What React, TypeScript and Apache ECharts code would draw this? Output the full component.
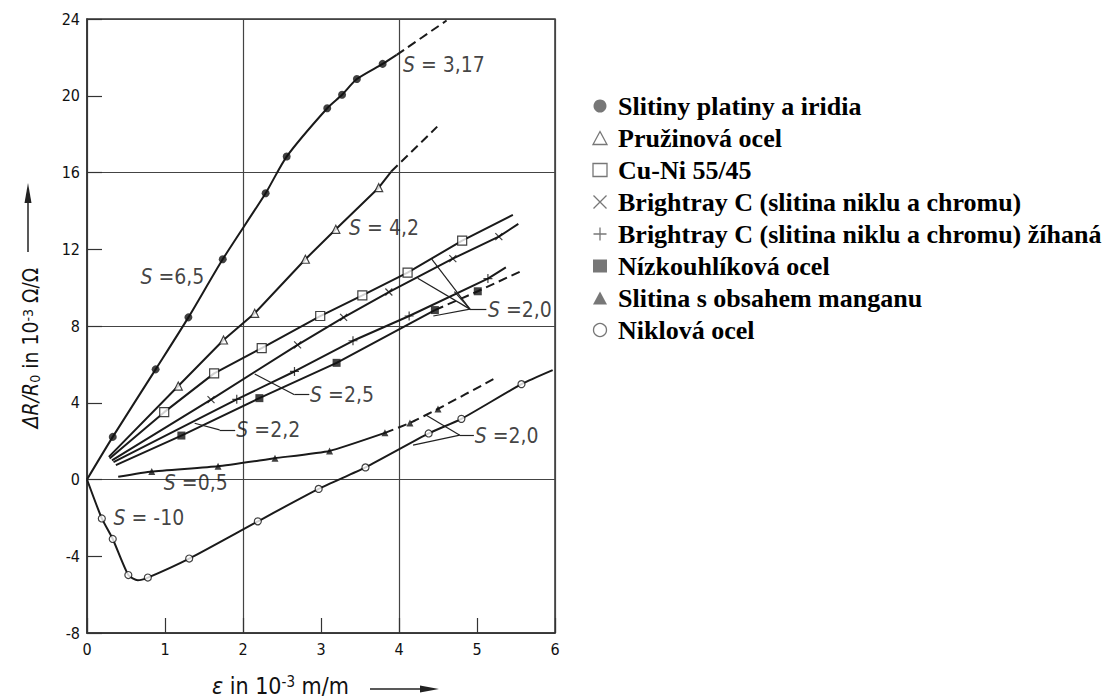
import React, { useEffect, useRef } from 'react';
import * as echarts from 'echarts';

type P = [number, number];

const FONT = '"DejaVu Sans Condensed", "DejaVu Sans", sans-serif';
const LEGEND_FONT = '"Liberation Serif", "Times New Roman", serif';

const legendNames = [
  'Slitiny platiny a iridia',
  'Pružinová ocel',
  'Cu-Ni 55/45',
  'Brightray C (slitina niklu a chromu)',
  'Brightray C (slitina niklu a chromu) žíhaná',
  'Nízkouhlíková ocel',
  'Slitina s obsahem manganu',
  'Niklová ocel',
];

// Slitiny platiny a iridia (filled circles)
const platStart: P = [0, 0];
const platPts: P[] = [[0.33, 2.22], [0.88, 5.74], [1.3, 8.45], [1.74, 11.48], [2.29, 14.92], [2.56, 16.83], [3.08, 19.35], [3.27, 20.05], [3.46, 20.87], [3.79, 21.66]];
const platDashFrom: P = [3.97, 22.13];
const platEnd: P = [4.61, 23.92];

// Pružinová ocel (open triangles)
const springStart: P = [0.28, 1.18];
const springPts: P[] = [[1.17, 4.87], [1.75, 7.27], [2.15, 8.66], [2.8, 11.48], [3.19, 13.04], [3.74, 15.21]];
const springDashFrom: P = [3.9, 16.05];
const springEnd: P = [4.49, 18.39];

// Cu-Ni 55/45 (open squares)
const cuniStart: P = [0.29, 1.1];
const cuniPts: P[] = [[0.99, 3.51], [1.63, 5.53], [2.24, 6.85], [2.99, 8.52], [3.53, 9.6], [4.11, 10.78], [4.81, 12.45]];
const cuniEnd: P = [5.46, 13.79];

// Brightray C (crosses)
const brightStart: P = [0.32, 1.0];
const brightPts: P[] = [[1.59, 4.16], [2.7, 7.02], [3.29, 8.45], [3.87, 9.77], [4.69, 11.51], [5.28, 12.66]];
const brightEnd: P = [5.53, 13.32];

// Brightray C žíhaná (plus)
const annealStart: P = [0.34, 0.9];
const annealPts: P[] = [[1.92, 4.18], [2.66, 5.63], [3.41, 7.23], [4.13, 8.52], [5.14, 10.47]];
const annealEnd: P = [5.37, 11.06];

// Nízkouhlíková ocel (filled squares)
const lowcStart: P = [0.37, 0.75];
const lowcPts: P[] = [[1.21, 2.29], [2.21, 4.24], [3.2, 6.08], [4.46, 8.83], [5.01, 9.81]];
const lowcDashFrom: P = [4.46, 8.83];
const lowcEnd: P = [5.56, 10.85];

// Slitina s obsahem manganu (filled triangles)
const mnStart: P = [0.4, 0.14];
const mnPts: P[] = [[0.83, 0.42], [1.68, 0.69], [2.41, 1.11], [3.11, 1.49], [3.82, 2.43], [4.14, 2.95], [4.5, 3.68]];
const mnDashFrom: P = [3.82, 2.43];
const mnEnd: P = [5.22, 5.25];

// Niklová ocel (open circles)
const nickStart: P = [0, 0];
const nickPts: P[] = [[0.19, -2.03], [0.33, -3.1], [0.53, -4.98], [0.78, -5.11], [1.31, -4.12], [2.19, -2.18], [2.97, -0.49], [3.57, 0.63], [4.38, 2.4], [4.8, 3.16], [5.57, 4.97]];
const nickBend: P[] = [[0.65, -5.25]];
const nickEnd: P = [5.97, 5.7];

// Annotations
const annoX = [4.05, 3.36, 0.685, 5.14, 2.86, 1.915, 4.97, 0.985, 0.34];
const annoY = [21.6, 13.1, 10.57, 8.85, 4.4, 2.57, 2.28, -0.19, -2.02];
const annoText = ['= 3,17', '= 4,2', '=6,5', '=2,0', '=2,5', '=2,2', '=2,0', '=0,5', '= -10'];

// Leader lines (segments)
const leaderUpper: P[][] = [
  [[4.91, 8.88], [4.42, 11.48]],
  [[4.91, 8.88], [4.24, 10.49]],
  [[4.91, 8.88], [4.71, 9.79]],
  [[4.91, 8.88], [4.44, 8.52]],
  [[4.91, 8.88], [5.12, 8.88]],
];
const leader25: P[] = [[2.15, 5.5], [2.66, 4.42], [2.85, 4.42]];
const leader22: P[] = [[1.38, 2.93], [1.7, 2.59], [1.9, 2.59]];
const leaderLower: P[][] = [
  [[4.78, 2.31], [4.35, 3.35]],
  [[4.78, 2.31], [4.18, 1.79]],
  [[4.78, 2.31], [4.96, 2.31]],
];

const CROSS = 'path://M0,0L10,10M10,0L0,10';
const PLUS = 'path://M5,0L5,10M0,5L10,5';

interface Mat {
  name: string;
  start: P;
  pts: P[];
  extra?: P[];
  dashFrom?: P;
  end: P;
  symbol: string;
  size: number;
  fill: string;
  smooth: number;
  legendFill: string;
}

const materials: Mat[] = [
  { name: legendNames[0], start: platStart, pts: platPts, dashFrom: platDashFrom, end: platEnd, symbol: 'circle', size: 8, fill: '#111', smooth: 0.25, legendFill: '#555' },
  { name: legendNames[1], start: springStart, pts: springPts, dashFrom: springDashFrom, end: springEnd, symbol: 'triangle', size: 8, fill: '#fff', smooth: 0, legendFill: '#fff' },
  { name: legendNames[2], start: cuniStart, pts: cuniPts, end: cuniEnd, symbol: 'rect', size: 9, fill: '#fff', smooth: 0, legendFill: '#fff' },
  { name: legendNames[3], start: brightStart, pts: brightPts, end: brightEnd, symbol: CROSS, size: 7, fill: 'none', smooth: 0, legendFill: 'none' },
  { name: legendNames[4], start: annealStart, pts: annealPts, end: annealEnd, symbol: PLUS, size: 9, fill: 'none', smooth: 0, legendFill: 'none' },
  { name: legendNames[5], start: lowcStart, pts: lowcPts, dashFrom: lowcDashFrom, end: lowcEnd, symbol: 'rect', size: 8, fill: '#111', smooth: 0, legendFill: '#555' },
  { name: legendNames[6], start: mnStart, pts: mnPts, dashFrom: mnDashFrom, end: mnEnd, symbol: 'triangle', size: 7, fill: '#111', smooth: 0.15, legendFill: '#555' },
  { name: legendNames[7], start: nickStart, pts: nickPts, extra: nickBend, end: nickEnd, symbol: 'circle', size: 7, fill: '#fff', smooth: 0.2, legendFill: '#fff' },
];

const LINE = '#1a1a1a';

function buildSeries(): any[] {
  const out: any[] = [];
  materials.forEach((m) => {
    const verts: P[] = [m.start, ...m.pts, ...(m.extra || [])];
    if (m.dashFrom && !verts.some((p) => p[0] === m.dashFrom![0])) verts.push(m.dashFrom);
    verts.push(m.end);
    verts.sort((a, b) => a[0] - b[0]);
    const solid = m.dashFrom ? verts.filter((p) => p[0] <= m.dashFrom![0]) : verts;
    out.push({
      type: 'line', data: solid, symbol: 'none', smooth: m.smooth,
      lineStyle: { color: LINE, width: 2 }, z: 2, silent: true,
    });
    if (m.dashFrom) {
      const dashed = verts.filter((p) => p[0] >= m.dashFrom![0]);
      out.push({
        type: 'line', data: dashed, symbol: 'none', smooth: m.smooth,
        lineStyle: { color: LINE, width: 2, type: [9, 5] }, z: 2, silent: true,
      });
    }
    out.push({
      type: 'scatter', name: m.name, data: m.pts, symbol: m.symbol, symbolSize: m.size, z: 4,
      itemStyle: { color: m.fill, borderColor: '#111', borderWidth: m.fill === '#111' ? 0 : 1.2 },
    });
  });

  const segs: any[] = [];
  leaderUpper.forEach((s) => segs.push([{ coord: s[0] }, { coord: s[1] }]));
  leaderLower.forEach((s) => segs.push([{ coord: s[0] }, { coord: s[1] }]));
  [leader25, leader22].forEach((pl) => {
    for (let i = 0; i < pl.length - 1; i++) segs.push([{ coord: pl[i] }, { coord: pl[i + 1] }]);
  });

  out.push({
    type: 'scatter', symbolSize: 0, z: 6, silent: true,
    data: annoX.map((x, i) => ({ value: [x, annoY[i]], name: annoText[i] })),
    label: {
      show: true, position: 'right', distance: 0,
      formatter: (p: any) => `{i|S}{n| ${p.name}}`,
      rich: {
        i: { fontStyle: 'italic', fontSize: 21, fontFamily: FONT, color: '#111' },
        n: { fontSize: 21, fontFamily: FONT, color: '#111' },
      },
    },
    markLine: {
      silent: true, symbol: ['none', 'none'], animation: false,
      lineStyle: { color: '#222', width: 1.2, type: 'solid' },
      label: { show: false },
      data: segs,
    },
  });
  return out;
}

export default function App() {
  const ref = useRef<HTMLDivElement>(null);
  useEffect(() => {
    if (!ref.current) return;
    const chart = echarts.init(ref.current, undefined, { renderer: 'svg' });
    const axisText = { fontSize: 16, color: '#111', fontFamily: FONT };
    const option: any = {
      animation: false,
      backgroundColor: '#fff',
      grid: { left: 87, top: 19, width: 468, height: 614, show: true, borderColor: '#333', borderWidth: 1.5, backgroundColor: 'transparent' },
      xAxis: [
        {
          type: 'value', min: 0, max: 6, interval: 1,
          axisLine: { show: true, onZero: false, lineStyle: { color: '#333', width: 1.5 } },
          axisTick: { show: true, inside: true, length: 15, lineStyle: { color: '#333', width: 1.2 } },
          axisLabel: { ...axisText, margin: 8 },
          splitLine: { show: false },
        },
        {
          type: 'value', min: 0, max: 6, interval: 2,
          axisLine: { show: false, onZero: false }, axisTick: { show: false }, axisLabel: { show: false },
          splitLine: { show: true, lineStyle: { color: '#444', width: 1.2 } },
        },
      ],
      yAxis: [
        {
          type: 'value', min: -8, max: 24, interval: 4,
          axisLine: { show: true, onZero: false, lineStyle: { color: '#333', width: 1.5 } },
          axisTick: { show: true, inside: true, length: 15, lineStyle: { color: '#333', width: 1.2 } },
          axisLabel: { ...axisText, margin: 7 },
          splitLine: { show: false },
        },
        {
          type: 'value', min: -8, max: 24, interval: 8,
          axisLine: { show: false, onZero: false }, axisTick: { show: false }, axisLabel: { show: false },
          splitLine: { show: true, lineStyle: { color: '#444', width: 1.2 } },
        },
      ],
      legend: {
        orient: 'vertical', left: 586, top: 88, itemWidth: 14, itemHeight: 13, itemGap: 6,
        selectedMode: false,
        textStyle: { fontFamily: LEGEND_FONT, fontWeight: 'bold', fontSize: 26, color: '#000', padding: [0, 0, 0, 6] },
        data: materials.map((m) => ({
          name: m.name,
          itemStyle: { color: m.legendFill, borderColor: '#555', borderWidth: m.legendFill === '#555' ? 0 : 1.3 },
        })),
      },
      graphic: [
        {
          type: 'text', x: 31, y: 348, rotation: Math.PI / 2,
          style: {
            text: '{i|ΔR/R}{s|0}{n| in 10}{p|-3}{n| Ω/Ω}',
            align: 'center', verticalAlign: 'middle', fill: '#111',
            rich: {
              i: { fontStyle: 'italic', fontSize: 21, fontFamily: FONT, fill: '#111' },
              s: { fontSize: 14, fontFamily: FONT, verticalAlign: 'bottom', fill: '#111' },
              n: { fontSize: 21, fontFamily: FONT, fill: '#111' },
              p: { fontSize: 14, fontFamily: FONT, verticalAlign: 'top', fill: '#111' },
            },
          },
        },
        { type: 'line', shape: { x1: 28, y1: 252, x2: 28, y2: 200 }, style: { stroke: '#222', lineWidth: 1.5 } },
        { type: 'polygon', shape: { points: [[24.5, 203], [28, 183], [31.5, 203]] }, style: { fill: '#222' } },
        {
          type: 'text', x: 212, y: 686,
          style: {
            text: '{i|ε}{n| in 10}{p|-3}{n| m/m}',
            align: 'left', verticalAlign: 'middle', fill: '#111',
            rich: {
              i: { fontStyle: 'italic', fontSize: 23, fontFamily: FONT, fill: '#111' },
              n: { fontSize: 23, fontFamily: FONT, fill: '#111' },
              p: { fontSize: 15, fontFamily: FONT, verticalAlign: 'top', fill: '#111' },
            },
          },
        },
        { type: 'line', shape: { x1: 370, y1: 689, x2: 424, y2: 689 }, style: { stroke: '#222', lineWidth: 1.5 } },
        { type: 'polygon', shape: { points: [[420, 685.5], [439, 689], [420, 692.5]] }, style: { fill: '#222' } },
      ],
      series: buildSeries(),
    };
    chart.setOption(option);
    return () => chart.dispose();
  }, []);
  return <div ref={ref} style={{ position: 'absolute', left: 0, top: 0, width: 1117, height: 700 }} />;
}
